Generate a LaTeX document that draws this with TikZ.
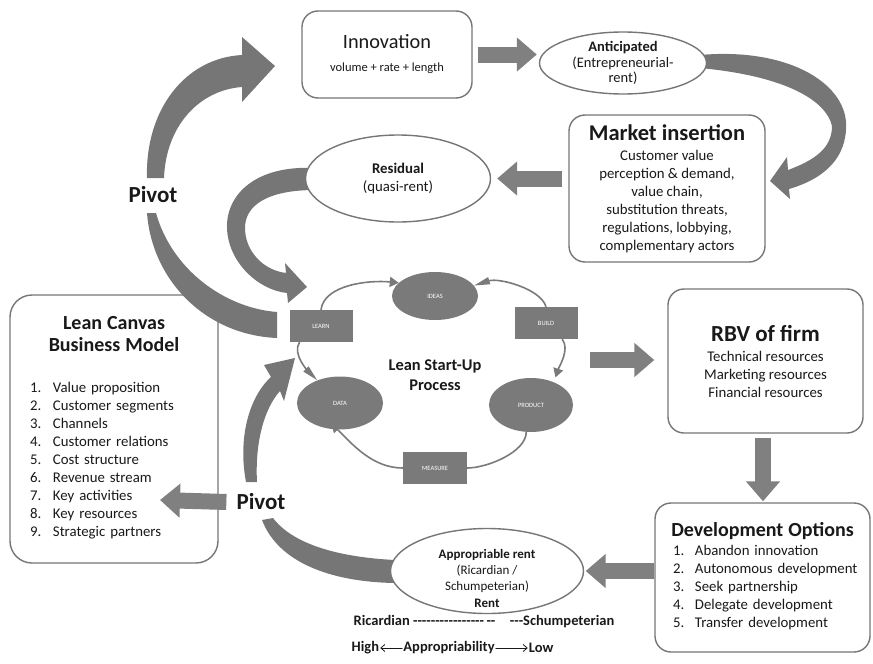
\documentclass[tikz,border=0pt]{standalone}
\usepackage{fontspec}
\setmainfont{Carlito}
\usepackage{tikz}
\usetikzlibrary{arrows.meta}
\usetikzlibrary{shapes.geometric}
\usetikzlibrary{positioning}
\usetikzlibrary{calc}

\definecolor{arrowgray}{RGB}{128,128,128}
\definecolor{bandgray}{RGB}{118,118,118}
\definecolor{linegray}{RGB}{118,118,118}
\definecolor{cycgray}{RGB}{122,122,122}
\definecolor{txt}{RGB}{25,25,25}
\newcommand{\dashes}[1]{\foreach \n in {1,...,#1}{\mbox{-}}}

\begin{document}
\begin{tikzpicture}[x=1pt, y=-1pt, line cap=round, line join=round,
  box/.style={draw=linegray, line width=1.4pt, rounded corners=16pt, fill=white, align=center, text=txt},
  ell/.style={ellipse, draw=linegray, line width=1.4pt, fill=white, align=center, text=txt, inner sep=0pt},
  cycrect/.style={rectangle, fill=cycgray, text=white, font=\fontsize{6.5}{7}\selectfont, minimum width=63pt, minimum height=32pt},
  cycell/.style={ellipse, fill=cycgray, text=white, font=\fontsize{6.5}{7}\selectfont, inner sep=0pt},
  blockarr/.style={draw=arrowgray, line width=16pt, line cap=butt, -{Triangle[length=20pt, width=33pt]}},
  band/.style={fill=bandgray},
  cycarr/.style={draw=cycgray, line width=1.6pt, -{Triangle[length=9pt, width=10pt]}},
  cycwedge/.style={draw=cycgray, line width=1.6pt, -{Triangle[length=16pt, width=7pt]}},
  pivotlbl/.style={font=\bfseries\fontsize{23}{26}\selectfont, text=txt, inner sep=1pt},
  bottomlbl/.style={font=\bfseries\fontsize{14.5}{16}\selectfont, text=txt, inner sep=1pt}]
\useasboundingbox (0,0) rectangle (873,664);

% lean canvas box (under the pivot band)
\node[box, text width=188pt, minimum height=268pt, inner sep=10pt, align=left, rounded corners=22pt,
  font=\fontsize{14.8}{18}\selectfont] (canvas) at (114,429) {%
  \makebox[188pt]{\bfseries\fontsize{20}{24}\selectfont Lean Canvas}\\[4pt]
  \makebox[188pt]{\bfseries\fontsize{20}{24}\selectfont Business Model}\\[23pt]
  \hspace*{10pt}\begin{tabular}[t]{@{}p{23pt}@{}l@{}}
  1. & Value proposition\\
  2. & Customer segments\\
  3. & Channels\\
  4. & Customer relations\\
  5. & Cost structure\\
  6. & Revenue stream\\
  7. & Key activities\\
  8. & Key resources\\
  9. & Strategic partners
  \end{tabular}};

% curved bands
\fill[band] (147,178) .. controls (145,110) and (185,58) .. (242,55) -- (242,37) -- (275,66)
  -- (242,102) -- (242,87) .. controls (200,90) and (166,125) .. (164,178) -- cycle;
\fill[band] (147,213) .. controls (152,280) and (205,335) .. (277,338) -- (277,312)
  .. controls (225,308) and (172,270) .. (156,213) -- cycle;
\fill[band] (315,168) .. controls (255,165) and (226,195) .. (227,228) .. controls (228,262) and (258,290) .. (287,293)
  -- (288,303) -- (307,287) -- (285,263) -- (286,273) .. controls (262,270) and (245,250) .. (245,228)
  .. controls (245,205) and (268,190) .. (315,190) -- cycle;
\fill[band] (700,55) .. controls (790,47) and (850,85) .. (846,130) .. controls (844,162) and (820,180) .. (789,189)
  -- (790,199) -- (770,181) -- (787,157) -- (788,170) .. controls (815,160) and (832,148) .. (832,126)
  .. controls (826,100) and (785,76) .. (700,68) -- cycle;
\fill[band] (246,482) .. controls (238,440) and (248,398) .. (271,377) -- (264,365) -- (295,358)
  -- (284,401) -- (280,391) .. controls (263,410) and (255,445) .. (257,482) -- cycle;
\fill[band] (262,520) .. controls (278,562) and (330,582) .. (395,583) -- (395,560)
  .. controls (335,557) and (292,543) .. (273,518) -- cycle;

% boxes and ellipses
\node[box, minimum width=170pt, minimum height=87pt, font=\fontsize{12.5}{15}\selectfont] (innov) at (387,54.5)
  {{\fontsize{20.3}{24}\selectfont Innovation}\\[8pt] volume + rate + length};
\node[ell, minimum width=167pt, minimum height=62pt, font=\fontsize{14.5}{15.3}\selectfont] (antic) at (623,63)
  {\textbf{Anticipated}\\(Entrepreneurial-\\rent)};
\node[box, minimum width=196pt, minimum height=147pt, font=\fontsize{14.8}{18}\selectfont] (market) at (667,188.5)
  {{\bfseries\fontsize{22.5}{24}\selectfont Market insertion}\\[2pt]
  Customer value\\ perception \& demand,\\ value chain,\\ substitution threats,\\
  regulations, lobbying,\\ complementary actors};
\node[ell, minimum width=185pt, minimum height=87pt, font=\fontsize{14.8}{18}\selectfont] (resid) at (398,178.5)
  {\textbf{Residual}\\(quasi-rent)};
\node[box, minimum width=195pt, minimum height=144pt, font=\fontsize{14.8}{18}\selectfont] (rbv) at (765.5,361)
  {{\bfseries\fontsize{23}{25}\selectfont RBV of firm}\\[2pt] Technical resources\\ Marketing resources\\ Financial resources};
\node[box, text width=195pt, minimum height=149pt, inner sep=10pt, align=left, font=\fontsize{14.8}{18}\selectfont] (devopt) at (762.5,577.5) {%
  \makebox[195pt]{\bfseries\fontsize{20}{22}\selectfont Development Options}\\[1pt]
  \hspace*{8pt}\begin{tabular}[t]{@{}p{22pt}@{}l@{}}
  1. & Abandon innovation\\
  2. & Autonomous development\\
  3. & Seek partnership\\
  4. & Delegate development\\
  5. & Transfer development
  \end{tabular}};
\node[ell, minimum width=193pt, minimum height=85pt, font=\fontsize{13}{16}\selectfont] (approp) at (487,571)
  {\textbf{Appropriable rent}\\(Ricardian /\\Schumpeterian)};
\node[font=\bfseries\fontsize{13}{14}\selectfont, text=txt, inner sep=1pt] (rent) at (487,603) {Rent};
\node[bottomlbl] (ricline) at (484,622)
  {Ricardian \dashes{16}\,\dashes{2}\quad\dashes{3}Schumpeterian};
\node[bottomlbl] (appr) at (449,648) {Appropriability};
\node[bottomlbl, left=22pt of appr] (high) {High};
\node[bottomlbl, right=32pt of appr] (low) {Low};
\draw[-{Straight Barb[length=4pt, width=7pt]}, line width=0.8pt, txt] (appr.west) -- (high.east);
\draw[-{Straight Barb[length=4pt, width=7pt]}, line width=0.8pt, txt] (appr.east) -- (low.west);

% pivot labels
\node[pivotlbl] (pivot1) at (153,195) {Pivot};
\node[pivotlbl] (pivot2) at (261,502) {Pivot};

% lean start-up cycle
\node[cycell, minimum width=86pt, minimum height=48pt] (ideas) at (435,296) {IDEAS};
\node[cycrect] (build) at (546,323) {BUILD};
\node[cycell, minimum width=84pt, minimum height=54pt] (product) at (531,405) {PRODUCT};
\node[cycrect, minimum width=64pt] (measure) at (435,468) {MEASURE};
\node[cycell, minimum width=86pt, minimum height=53pt] (data) at (340,403) {DATA};
\node[cycrect] (learn) at (321,326) {LEARN};
\node[font=\bfseries\fontsize{16.4}{20}\selectfont, text=txt, align=center] (lsp) at (435,375) {Lean Start-Up\\Process};

\draw[cycarr] (learn.north) .. controls +(3,-25) and +(-30,-3) .. (ideas.160);
\draw[cycwedge] (build.north) .. controls +(-5,-18) and +(25,-8) .. (ideas.15);
\draw[cycarr, shorten >=5pt] (build.-45) .. controls +(8,10) and +(5,-15) .. (product.45);
\draw[cycarr, -] (product.-100) .. controls +(0,20) and +(20,0) .. (measure.east);
\draw[cycarr, shorten >=-9pt] (measure.west) .. controls +(-30,0) and +(15,15) .. (data.-95);
\draw[cycwedge] (learn.-143) .. controls +(-8,12) and +(-8,-8) .. (data.135);

% block arrows
\coordinate (lsout) at (590,360);
\coordinate (canvasin) at (160,500);
\draw[blockarr, shorten <=5pt, shorten >=2pt] (innov.east) -- (innov.east -| antic.west);
\draw[blockarr, shorten <=6pt, shorten >=6pt] (resid.east -| market.west) -- (resid.east);
\draw[blockarr, shorten >=13pt] (lsout) -- (lsout -| rbv.west);
\draw[blockarr, shorten <=4pt, shorten >=1pt] ([xshift=-2.5pt]rbv.south) -- ([xshift=-2.5pt]rbv.south |- devopt.north);
\draw[blockarr, shorten >=1.5pt] (approp.east -| devopt.west) -- (approp.east);
\draw[blockarr] ([xshift=-9pt]pivot2.west) -- (canvasin);
\end{tikzpicture}
\end{document}
